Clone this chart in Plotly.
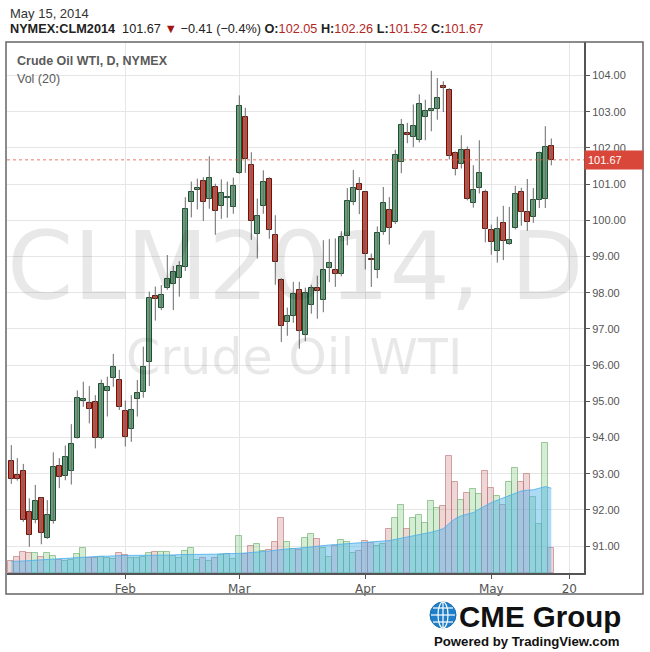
import plotly.graph_objects as go

# ---------------- data ----------------
opens = [93.36, 92.96, 93.07, 91.93, 91.71, 92.32, 91.22, 91.68, 93.20, 92.93,
         93.07, 94.00, 95.00, 94.95, 94.97, 94.00, 95.29, 95.64, 95.58, 94.72,
         94.23, 95.06, 95.25, 96.09, 97.90, 97.57, 98.12, 98.25, 98.40, 98.70,
         100.50, 100.83, 101.08, 100.60, 100.91, 100.40, 100.61, 100.38, 101.31, 102.86,
         101.54, 99.63, 100.40, 101.15, 99.60, 98.36, 97.20, 97.36, 98.08, 96.82,
         97.67, 98.14, 97.81, 98.69, 98.64, 98.53, 99.56, 100.50, 101.00, 100.78,
         98.92, 98.64, 99.69, 100.28, 99.94, 101.60, 102.42, 102.31, 102.21, 102.85,
         103.03, 103.07, 103.71, 103.60, 101.85, 101.55, 101.93, 100.49, 100.88, 100.77,
         99.72, 99.15, 99.93, 99.35, 99.79, 100.78, 100.23, 100.10, 100.56, 100.59,
         102.05]
highs = [93.79, 93.43, 93.27, 92.32, 92.69, 92.35, 92.27, 93.59, 93.43, 93.78,
         94.37, 95.30, 95.54, 95.42, 95.17, 95.60, 95.68, 96.31, 95.87, 95.02,
         95.17, 95.59, 96.51, 98.03, 98.17, 98.21, 99.04, 98.74, 98.87, 100.64,
         101.07, 101.15, 101.19, 101.77, 101.01, 101.13, 101.07, 101.18, 103.45, 103.11,
         101.88, 100.60, 101.38, 101.19, 100.14, 98.40, 97.59, 98.30, 98.30, 98.14,
         98.22, 98.47, 99.45, 99.48, 99.50, 99.70, 100.89, 101.39, 101.19, 100.80,
         99.08, 99.83, 100.92, 100.64, 101.95, 102.80, 102.69, 103.20, 103.48, 103.33,
         104.13, 103.93, 103.84, 103.65, 101.90, 102.35, 102.04, 101.52, 102.21, 100.85,
         99.88, 100.10, 100.40, 100.37, 100.95, 100.90, 101.14, 100.89, 101.90, 102.60,
         102.26]
lows = [92.72, 92.81, 91.67, 90.98, 91.63, 91.05, 91.20, 91.62, 92.60, 92.82,
        92.70, 93.97, 94.85, 94.39, 93.70, 93.95, 94.58, 95.40, 94.76, 93.75,
        93.88, 94.58, 95.10, 95.42, 97.23, 97.52, 98.08, 97.52, 97.89, 98.60,
        100.08, 100.30, 99.98, 100.32, 99.60, 100.04, 100.07, 100.18, 101.28, 101.31,
        99.46, 98.94, 100.18, 99.49, 98.22, 96.64, 96.81, 97.17, 96.45, 96.66,
        97.42, 97.28, 97.46, 98.29, 98.16, 98.45, 99.31, 100.42, 100.17, 98.64,
        98.16, 98.40, 99.60, 99.33, 99.90, 101.30, 102.13, 102.02, 102.15, 102.21,
        102.46, 102.78, 102.99, 101.68, 101.24, 101.43, 100.55, 100.35, 100.74, 99.39,
        99.05, 98.83, 98.90, 99.32, 99.75, 99.85, 99.71, 99.93, 100.34, 100.34,
        101.52]
closes = [92.85, 92.85, 91.71, 91.30, 92.24, 91.35, 91.85, 93.18, 92.90, 93.45,
          93.81, 95.10, 95.05, 94.78, 93.98, 95.47, 95.39, 95.94, 94.85, 94.02,
          94.76, 95.22, 95.94, 97.84, 97.82, 97.93, 98.38, 98.56, 98.73, 100.30,
          100.79, 100.88, 100.50, 101.18, 100.25, 100.76, 100.63, 100.96, 103.17, 101.69,
          99.99, 100.13, 101.07, 99.74, 98.86, 97.09, 97.36, 97.97, 96.95, 98.00,
          98.14, 98.06, 98.64, 98.83, 98.53, 99.53, 100.53, 100.89, 100.83, 99.06,
          98.89, 99.64, 100.47, 99.78, 101.81, 102.64, 102.36, 102.61, 103.21, 103.01,
          103.05, 103.37, 103.65, 101.77, 101.43, 101.93, 100.60, 100.85, 101.30, 99.75,
          99.41, 99.76, 99.43, 99.46, 100.73, 100.23, 99.96, 100.56, 101.86, 102.03,
          101.67]
# volume, thousands of contracts
volumes = [31, 41, 53, 49, 49, 39, 51, 43, 32, 29,
           33, 48, 62, 38, 38, 41, 38, 34, 51, 46,
           37, 37, 39, 51, 53, 53, 53, 42, 37, 56,
           62, 33, 38, 31, 37, 44, 48, 36, 93, 48,
           68, 73, 56, 58, 78, 138, 78, 61, 57, 88,
           98, 86, 63, 41, 68, 83, 78, 51, 56, 81,
           76, 68, 73, 111, 138, 171, 111, 138, 146, 126,
           181, 163, 168, 293, 228, 183, 201, 211, 198, 256,
           213, 193, 171, 228, 263, 228, 247, 191, 123, 326,
           63]
vol_ma20 = [29, 29, 30, 31, 32, 32, 33, 34, 35, 36,
            37, 38, 39, 40, 41, 42, 42, 43, 43, 44,
            44, 44, 44, 45, 45, 45, 45, 45, 46, 46,
            46, 46, 46, 46, 47, 48, 48, 48, 49, 50,
            51, 52, 54, 55, 57, 59, 60, 61, 62, 63,
            65, 67, 69, 70, 71, 72, 73, 74, 75, 76,
            77, 78, 79, 81, 84, 87, 90, 92, 95, 98,
            102, 106, 111, 124, 136, 143, 147, 151, 160, 169,
            176, 182, 188, 194, 200, 205, 207, 208, 212, 216,
            212]
price_ticks = [91, 92, 93, 94, 95, 96, 97, 98, 99, 100, 101, 102, 103, 104]
x_tick_pos = [19, 38, 59, 80, 93]
x_tick_text = ["Feb", "Mar", "Apr", "May", "20"]

# ---------------- styling ----------------
W, H = 650, 652
PL, PR, PT, PB = 7, 584, 42, 573   # plot area in pixels


def px(x):
    return (x - PL) / (PR - PL)


def py(y):
    return (PB - y) / (PB - PT)


GREEN_FILL, GREEN_LINE = "#65a27c", "#1f4d2e"
RED_FILL, RED_LINE = "#d9473a", "#5c1a12"
WICK = "#6a6a6a"
GRID = "#e6e6e6"
AXIS = "#555555"

n = len(opens)
idx = list(range(n))
up = [c >= o for o, c in zip(opens, closes)]

wx, wy = [], []
for i in idx:
    wx += [i, i, None]
    wy += [lows[i], highs[i], None]

body_base = [min(o, c) for o, c in zip(opens, closes)]
body_h = [max(abs(c - o), 0.035) for o, c in zip(opens, closes)]

fig = go.Figure()

# volume (behind)
fig.add_trace(go.Bar(
    x=idx, y=volumes, yaxis="y2", width=1.0,
    marker=dict(color=["rgba(120,200,120,0.32)" if u else "rgba(205,130,130,0.32)" for u in up],
                line=dict(color=["rgba(110,175,110,0.65)" if u else "rgba(190,120,120,0.65)" for u in up],
                          width=1)),
    hoverinfo="skip"))
fig.add_trace(go.Scatter(
    x=idx, y=vol_ma20, yaxis="y2", mode="lines",
    line=dict(color="rgba(80,175,235,0.85)", width=1),
    fill="tozeroy", fillcolor="rgba(70,175,235,0.45)", hoverinfo="skip"))

# wicks
fig.add_trace(go.Scatter(x=wx, y=wy, mode="lines",
                         line=dict(color=WICK, width=1), hoverinfo="skip"))
# bodies
fig.add_trace(go.Bar(
    x=idx, y=body_h, base=body_base, width=0.76,
    marker=dict(color=[GREEN_FILL if u else RED_FILL for u in up],
                line=dict(color=[GREEN_LINE if u else RED_LINE for u in up], width=1)),
    hoverinfo="skip"))

annotations = [
    dict(text="May 15, 2014", x=px(8), y=py(13), xanchor="left", yanchor="middle",
         font=dict(family="Liberation Sans", size=13, color="#333")),
    dict(text=("<b>NYMEX:CLM2014</b>  101.67 <span style='color:#a31515'>▼</span> −0.41 (−0.4%) "
               "<b>O:</b><span style='color:#b3261e'>102.05</span> "
               "<b>H:</b><span style='color:#b3261e'>102.26</span> "
               "<b>L:</b><span style='color:#b3261e'>101.52</span> "
               "<b>C:</b><span style='color:#b3261e'>101.67</span>"),
         x=px(8), y=py(29), xanchor="left", yanchor="middle",
         font=dict(family="Liberation Sans", size=12.7, color="#222")),
    dict(text="<b>Crude Oil WTI, D, NYMEX</b>", x=px(15), y=py(61), xanchor="left", yanchor="middle",
         font=dict(family="Liberation Sans", size=12.5, color="#5a5a5a")),
    dict(text="Vol (20)", x=px(15), y=py(79), xanchor="left", yanchor="middle",
         font=dict(family="Liberation Sans", size=12.5, color="#5a5a5a")),
    dict(text="CLM2014, D", x=px(295), y=py(266), xanchor="center", yanchor="middle",
         font=dict(family="DejaVu Sans", size=95, color="rgba(0,0,0,0.09)")),
    dict(text="Crude Oil WTI", x=px(294), y=py(357), xanchor="center", yanchor="middle",
         font=dict(family="DejaVu Sans", size=49, color="rgba(0,0,0,0.09)")),
    dict(text="101.67", x=1.0, xref="paper", y=closes[-1], yref="y", xanchor="left", yanchor="middle",
         bgcolor="#d9473a", font=dict(family="Liberation Sans", size=11, color="white"),
         width=52, align="left", borderpad=3, showarrow=False),
    dict(text="<b>CME Group</b>", x=px(457), y=py(616), xanchor="left", yanchor="middle",
         font=dict(family="Liberation Sans", size=29.5, color="#111")),
    dict(text="<b>Powered by TradingView.com</b>", x=px(432), y=py(641), xanchor="left", yanchor="middle",
         font=dict(family="Liberation Sans", size=13.2, color="#111")),
]
for a in annotations:
    a.setdefault("xref", "paper")
    a.setdefault("yref", "paper")
    a.setdefault("showarrow", False)

shapes = [
    # outer frame
    dict(type="rect", xref="paper", yref="paper", x0=px(6), x1=px(643), y0=py(594), y1=py(42),
         line=dict(color="#666", width=1.5), fillcolor="rgba(0,0,0,0)"),
    # last price line
    dict(type="line", xref="paper", yref="y", x0=0, x1=1, y0=closes[-1], y1=closes[-1],
         line=dict(color="rgba(225,80,60,0.75)", width=1, dash="dot")),
    # CME globe
    dict(type="circle", xref="paper", yref="paper", x0=px(430), x1=px(456), y0=py(628), y1=py(602),
         fillcolor="#1f7fc8", line=dict(color="#1a6fb0", width=1)),
    dict(type="circle", xref="paper", yref="paper", x0=px(438), x1=px(448), y0=py(628), y1=py(602),
         fillcolor="rgba(0,0,0,0)", line=dict(color="white", width=1.2)),
    dict(type="line", xref="paper", yref="paper", x0=px(443), x1=px(443), y0=py(628), y1=py(602),
         line=dict(color="white", width=1.2)),
    dict(type="line", xref="paper", yref="paper", x0=px(431), x1=px(455), y0=py(615), y1=py(615),
         line=dict(color="white", width=1.2)),
    dict(type="line", xref="paper", yref="paper", x0=px(433), x1=px(453), y0=py(608), y1=py(608),
         line=dict(color="white", width=1.2)),
    dict(type="line", xref="paper", yref="paper", x0=px(433), x1=px(453), y0=py(622), y1=py(622),
         line=dict(color="white", width=1.2)),
]

x0 = (PL - 11.3) / 6.0
x1 = (PR - 11.3) / 6.0
y_top = 95 + (401.3 - PT) / 36.2
y_bot = 95 - (PB - 401.3) / 36.2
vol_top = (PB - PT) * 2.5

fig.update_layout(
    width=W, height=H,
    margin=dict(l=PL, r=W - PR, t=PT, b=H - PB),
    paper_bgcolor="white", plot_bgcolor="white",
    showlegend=False, barmode="overlay", bargap=0,
    font=dict(family="Liberation Sans", color=AXIS),
    xaxis=dict(range=[x0, x1], tickvals=x_tick_pos, ticktext=x_tick_text,
               showgrid=True, gridcolor=GRID, gridwidth=1, zeroline=False,
               ticks="outside", ticklen=4, tickcolor=AXIS,
               showline=True, linecolor=AXIS, linewidth=2,
               tickfont=dict(family="DejaVu Sans", size=12, color="#555")),
    yaxis=dict(side="right", range=[y_bot, y_top], tickvals=price_ticks,
               ticktext=[f"{v:.2f}" for v in price_ticks],
               showgrid=True, gridcolor=GRID, gridwidth=1, zeroline=False,
               ticks="outside", ticklen=4, tickcolor=AXIS,
               showline=True, linecolor=AXIS, linewidth=2,
               tickfont=dict(family="Liberation Sans", size=11, color="#555")),
    yaxis2=dict(overlaying="y", range=[0, vol_top], visible=False),
    annotations=annotations, shapes=shapes,
)

fig.write_html("out.html", config={"displayModeBar": False},
               post_script="document.body.style.margin='0';document.body.style.padding='0';")
